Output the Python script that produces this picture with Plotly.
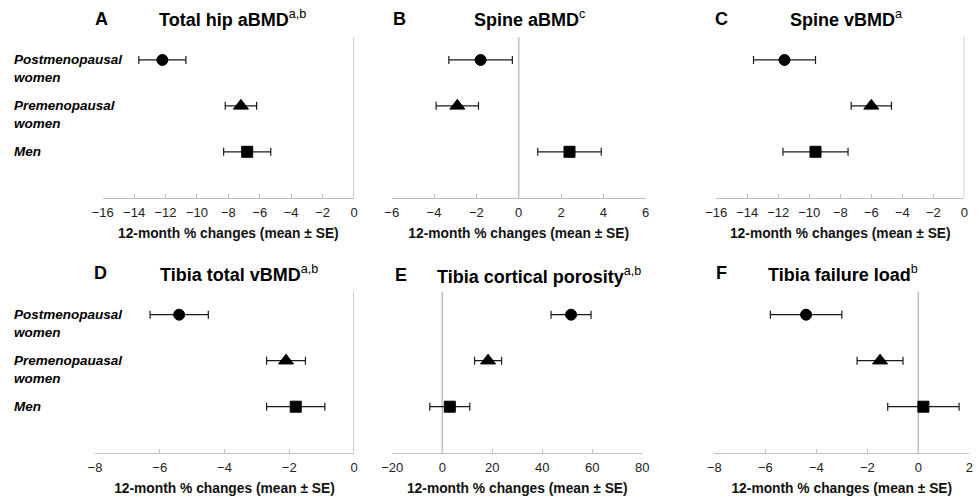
import plotly.graph_objects as go

# ---------------- data ----------------
groups = ["Postmenopausal women", "Premenopausal women", "Men"]
labels_top = ["Postmenopausal<br>women", "Premenopausal<br>women", "Men"]
labels_bottom = ["Postmenopausal<br>women", "Premenopauasal<br>women", "Men"]
symbols = ["circle", "triangle-up", "square"]
sizes = [11, 13, 11]

panel_letters = ["A", "B", "C", "D", "E", "F"]
panel_titles = ["Total hip aBMD", "Spine aBMD", "Spine vBMD",
                "Tibia total vBMD", "Tibia cortical porosity", "Tibia failure load"]
panel_sups = ["a,b", "c", "a", "a,b", "a,b", "b"]

hip_abmd_mean = [-12.2, -7.2, -6.8]
hip_abmd_se = [1.5, 1.0, 1.5]
spine_abmd_mean = [-1.8, -2.9, 2.4]
spine_abmd_se = [1.5, 1.0, 1.5]
spine_vbmd_mean = [-11.6, -6.0, -9.6]
spine_vbmd_se = [2.0, 1.3, 2.1]
tibia_vbmd_mean = [-5.4, -2.1, -1.8]
tibia_vbmd_se = [0.9, 0.6, 0.9]
tibia_porosity_mean = [51.5, 18.3, 3.0]
tibia_porosity_se = [8.0, 5.4, 8.0]
tibia_load_mean = [-4.4, -1.5, 0.2]
tibia_load_se = [1.4, 0.9, 1.4]

x_ranges = [[-16, 0], [-6, 6], [-16, 0], [-8, 0], [-20, 80], [-8, 2]]
x_dticks = [2, 2, 2, 2, 20, 2]
axis_title = "12-month % changes (mean ± SE)"

means = [hip_abmd_mean, spine_abmd_mean, spine_vbmd_mean,
         tibia_vbmd_mean, tibia_porosity_mean, tibia_load_mean]
ses = [hip_abmd_se, spine_abmd_se, spine_vbmd_se,
       tibia_vbmd_se, tibia_porosity_se, tibia_load_se]

# ---------------- layout geometry (pixels) ----------------
W, H = 979, 504
x_px = [(102.7, 354), (391.7, 645.7), (716.3, 964.3),
        (95, 354), (392.3, 642.3), (714.3, 969.3)]
y_px_top = (37, 197.7)      # top, bottom (from page top)
y_px_bot = (291.7, 452.7)
letter_px = [(93, 19), (391, 19), (713, 19), (92, 273), (393, 275), (714, 273)]
title_px = [157, 471.7, 788, 158, 435, 766]

FONT = "Arial, Liberation Sans, sans-serif"
AXIS_GRAY = "#bfbfbf"
BAR_COLOR = "#1a1a1a"

fig = go.Figure()
layout = dict(
    width=W, height=H, margin=dict(l=0, r=0, t=0, b=0, autoexpand=False),
    paper_bgcolor="white", plot_bgcolor="white", showlegend=False,
    font=dict(family=FONT, color="#222"),
)
annotations = []
shapes = []

for i in range(6):
    ax = "" if i == 0 else str(i + 1)
    xa, ya = "xaxis" + ax, "yaxis" + ax
    xr, yr = "x" + ax, "y" + ax
    x0, x1 = x_px[i]
    yt, yb = y_px_top if i < 3 else y_px_bot
    layout[xa] = dict(
        domain=[x0 / W, x1 / W], anchor=yr, range=x_ranges[i], automargin=False,
        dtick=x_dticks[i], tick0=0, showgrid=False, zeroline=False,
        showline=True, linecolor=AXIS_GRAY, linewidth=1,
        ticks="inside", ticklen=4, tickcolor=AXIS_GRAY, tickwidth=1,
        ticklabelstandoff=3,
        tickfont=dict(size=13, color="#222", family=FONT),
        title=dict(text="<b>" + axis_title + "</b>",
                   font=dict(size=13.8, color="#111", family=FONT), standoff=9),
    )
    layout[ya] = dict(
        domain=[1 - yb / H, 1 - yt / H], anchor=xr, type="category", automargin=False,
        categoryorder="array", categoryarray=groups[::-1], range=[-1, 2.5],
        showgrid=False, zeroline=False, showline=False, showticklabels=False,
        ticks="",
    )
    # vertical zero reference line
    shapes.append(dict(type="line", xref=xr, yref=yr + " domain", x0=0, x1=0,
                       y0=0, y1=1, line=dict(color=AXIS_GRAY, width=1.5), layer="below"))
    fig.add_trace(go.Scatter(
        x=means[i], y=groups, mode="markers", xaxis=xr, yaxis=yr, opacity=1,
        marker=dict(symbol=symbols, size=sizes, color="#000000", opacity=1,
                    line=dict(color="#000000", width=1)),
        error_x=dict(type="data", array=ses[i], symmetric=True,
                     color=BAR_COLOR, thickness=1.2, width=4),
        hoverinfo="x+y",
    ))
    # panel letter & title
    lx, ly = letter_px[i]
    annotations.append(dict(
        xref="paper", yref="paper", x=lx / W, y=1 - ly / H, xanchor="left",
        yanchor="middle", showarrow=False, text="<b>" + panel_letters[i] + "</b>",
        font=dict(size=18, color="black", family=FONT)))
    annotations.append(dict(
        xref="paper", yref="paper", x=title_px[i] / W, y=1 - ly / H, xanchor="left",
        yanchor="middle", showarrow=False,
        text="<b>" + panel_titles[i] + "</b><sup>" + panel_sups[i] + "</sup>",
        font=dict(size=18, color="black", family=FONT)))

# category labels on left panels (A and D)
for row, (yr, labs) in enumerate([("y", labels_top), ("y4", labels_bottom)]):
    for g, lab in zip(groups, labs):
        nlines = lab.count("<br>") + 1
        txt = "<br>".join("<b><i>" + p + "</i></b>" for p in lab.split("<br>"))
        annotations.append(dict(
            xref="paper", yref=yr, x=12 / W, y=g, xanchor="left", yanchor="middle",
            align="left", showarrow=False, text=txt,
            yshift=-(nlines - 1) * 8.8,
            font=dict(size=13.5, color="black", family=FONT)))

layout["annotations"] = annotations
layout["shapes"] = shapes
fig.update_layout(**layout)
fig.write_html("out.html", config={"displayModeBar": False},
               post_script="document.body.style.margin='0';document.body.style.overflow='hidden';")
